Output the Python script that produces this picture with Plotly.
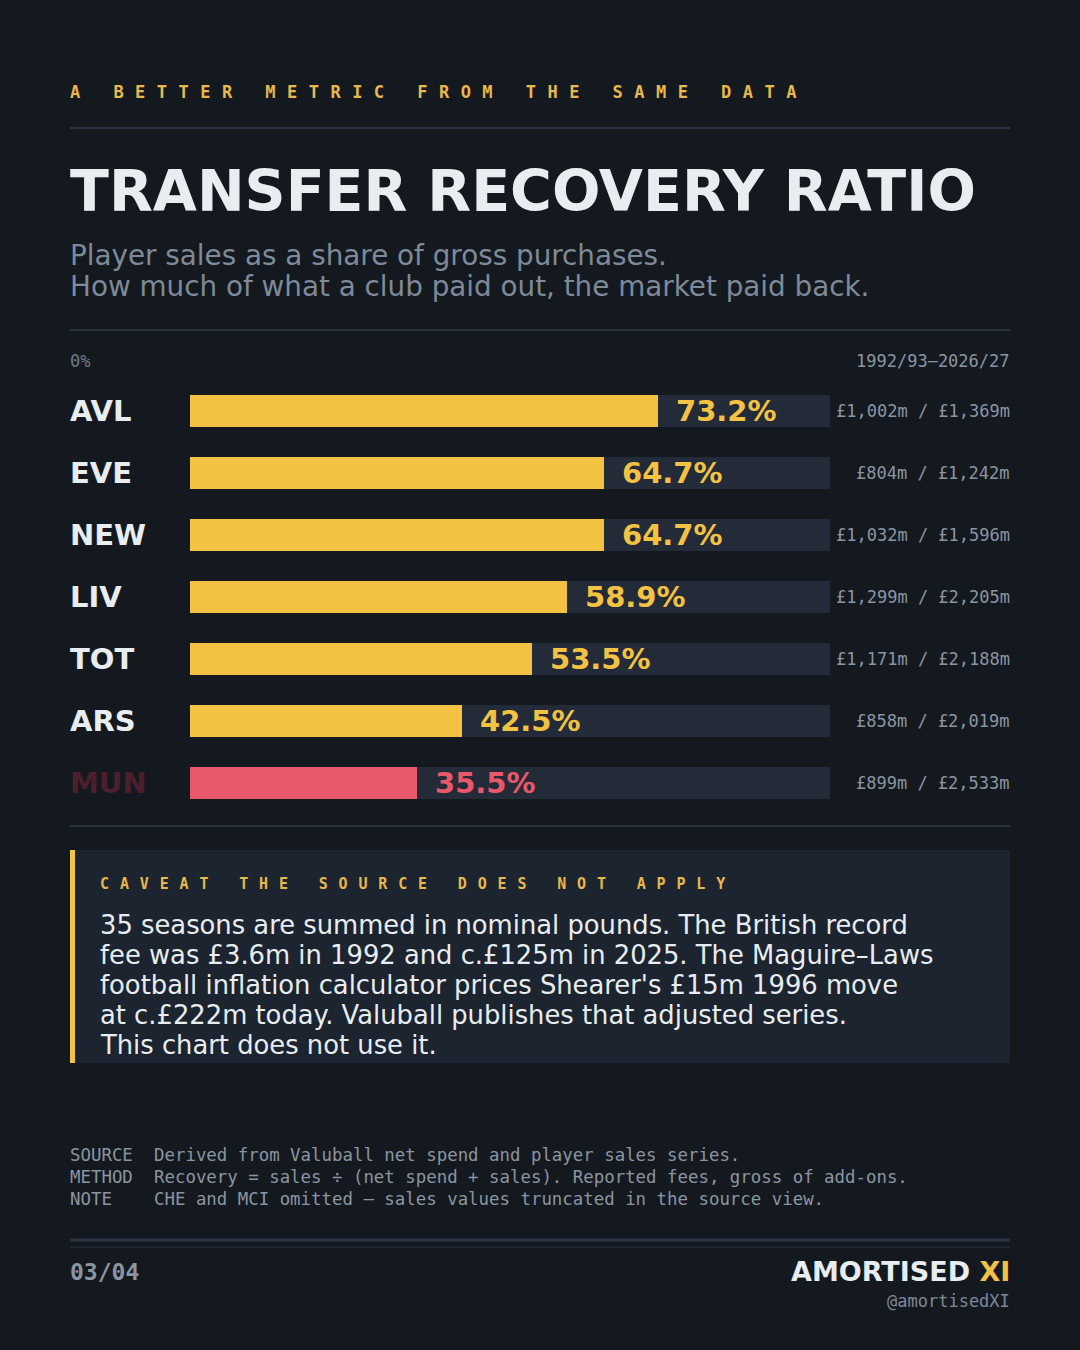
import plotly.graph_objects as go

W, H = 1080, 1350

# data
clubs = ["AVL", "EVE", "NEW", "LIV", "TOT", "ARS", "MUN"]
recovery_pct = [73.2, 64.7, 64.7, 58.9, 53.5, 42.5, 35.5]
sales_m = ["£1,002m", "£804m", "£1,032m", "£1,299m", "£1,171m", "£858m", "£899m"]
gross_m = ["£1,369m", "£1,242m", "£1,596m", "£2,205m", "£2,188m", "£2,019m", "£2,533m"]
highlight = [False, False, False, False, False, False, True]

BG = "#141920"
TRACK = "#222b37"
RULE = "#2a3340"
YELLOW = "#f4c242"
RED = "#e8586a"
WHITE = "#e8edf2"
GREY = "#8b95a1"
SUB = "#7e8a98"
BOX = "#1c2430"
SANS = "DejaVu Sans"
MONO = "DejaVu Sans Mono"


def px(x):
    return x / W


def py(y):
    return 1 - y / H


def spaced(s, gap):
    # fake css letter-spacing with a sized non-breaking space after each glyph
    out = ""
    for ch in s:
        c = "\u00a0" if ch == " " else ch
        out += c + f'<span style="font-size:{gap}px">\u00a0</span>'
    return out


fig = go.Figure()

n = len(clubs)
bar_w = 32 / 62

fig.add_trace(go.Bar(
    x=[100] * n, y=clubs, orientation="h", width=bar_w,
    marker=dict(color=TRACK, line=dict(width=0)),
    hoverinfo="skip", showlegend=False,
))
fig.add_trace(go.Bar(
    x=recovery_pct, y=clubs, orientation="h", width=bar_w,
    marker=dict(color=[RED if h else YELLOW for h in highlight], line=dict(width=0)),
    hoverinfo="skip", showlegend=False,
))

ann = []


def text(x, y, s, size, color, family=SANS, weight=400, anchor="left", xref="paper", yref="paper", xshift=0):
    # annotations carry ~2px of padding, undo it so text sits on the guide lines
    pad = -2 if anchor == "left" else 2
    ann.append(dict(
        x=x, y=y, xref=xref, yref=yref, text=s, showarrow=False,
        xanchor=anchor, yanchor="middle", xshift=xshift + pad, align=anchor,
        font=dict(family=family, size=size, color=color, weight=weight),
    ))


# header
text(px(70), py(91), spaced("A BETTER METRIC FROM THE SAME DATA", 19), 17, "#e8b84a", MONO, 700)
text(px(70), py(191), "TRANSFER RECOVERY RATIO", 57, WHITE, SANS, 700)
text(px(70), py(255), "Player sales as a share of gross purchases.", 27.8, SUB)
text(px(70), py(287), "How much of what a club paid out, the market paid back.", 27.8, SUB)

text(px(70), py(361), "0%", 17, "#6f7987", MONO)
text(px(1010), py(361), "1992/93–2026/27", 17, GREY, MONO, anchor="right")

# rows
for i, club in enumerate(clubs):
    col = RED if highlight[i] else YELLOW
    label_col = "#4b1f2b" if highlight[i] else WHITE
    text(px(70), club, club, 29, label_col, SANS, 700, yref="y")
    text(recovery_pct[i], club, f"{recovery_pct[i]:.1f}%", 29, col, SANS, 700,
         xref="x", yref="y", xshift=18)
    text(px(1010), club, f"{sales_m[i]} / {gross_m[i]}", 17, GREY, MONO, anchor="right", yref="y")

# caveat box
text(px(100), py(883), spaced("CAVEAT THE SOURCE DOES NOT APPLY", 18), 15, "#e8b84a", MONO, 700)
caveat = [
    "35 seasons are summed in nominal pounds. The British record",
    "fee was £3.6m in 1992 and c.£125m in 2025. The Maguire–Laws",
    "football inflation calculator prices Shearer's £15m 1996 move",
    "at c.£222m today. Valuball publishes that adjusted series.",
    "This chart does not use it.",
]
for k, line in enumerate(caveat):
    text(px(100), py(925 + 30 * k), line, 25.8, WHITE)

# footnotes
notes = [
    ("SOURCE", "Derived from Valuball net spend and player sales series."),
    ("METHOD", "Recovery = sales ÷ (net spend + sales). Reported fees, gross of add-ons."),
    ("NOTE", "CHE and MCI omitted – sales values truncated in the source view."),
]
for k, (lab, body) in enumerate(notes):
    text(px(70), py(1155 + 22 * k), lab, 17.4, GREY, MONO)
    text(px(154), py(1155 + 22 * k), body, 17.4, GREY, MONO)

# footer
text(px(70), py(1272), "03/04", 23, GREY, MONO, 700)
text(px(1010), py(1271), f'AMORTISED <span style="color:{YELLOW}">XI</span>', 27, WHITE, SANS, 700, anchor="right")
text(px(1010), py(1301), "@amortisedXI", 17, "#7e8896", MONO, anchor="right")

shapes = []


def hline(y, width=2, color=RULE):
    shapes.append(dict(type="line", xref="paper", yref="paper",
                       x0=px(70), x1=px(1010), y0=py(y), y1=py(y),
                       line=dict(color=color, width=width)))


hline(128)
hline(330)
hline(826)
hline(1240, 3, "#2c3542")
hline(1247, 1.5, "#232b36")

shapes.append(dict(type="rect", xref="paper", yref="paper", layer="below",
                   x0=px(70), x1=px(1010), y0=py(1063), y1=py(850),
                   fillcolor=BOX, line=dict(width=0)))
shapes.append(dict(type="rect", xref="paper", yref="paper",
                   x0=px(70), x1=px(75), y0=py(1063), y1=py(850),
                   fillcolor=YELLOW, line=dict(width=0)))

fig.update_layout(
    width=W, height=H,
    margin=dict(l=0, r=0, t=0, b=0),
    paper_bgcolor=BG, plot_bgcolor=BG,
    barmode="overlay",
    bargap=0,
    showlegend=False,
    xaxis=dict(domain=[px(190), px(830)], range=[0, 100], visible=False, fixedrange=True),
    yaxis=dict(domain=[py(814), py(380)], range=[n - 0.5, -0.5], visible=False,
               type="category", categoryorder="array", categoryarray=clubs, fixedrange=True),
    annotations=ann,
    shapes=shapes,
    font=dict(family=SANS),
)

# drop the default page margin so the figure fills the window edge to edge
fig.write_html("out.html", config=dict(displayModeBar=False),
               post_script="document.body.style.margin='0';document.body.style.background='#141920';")
